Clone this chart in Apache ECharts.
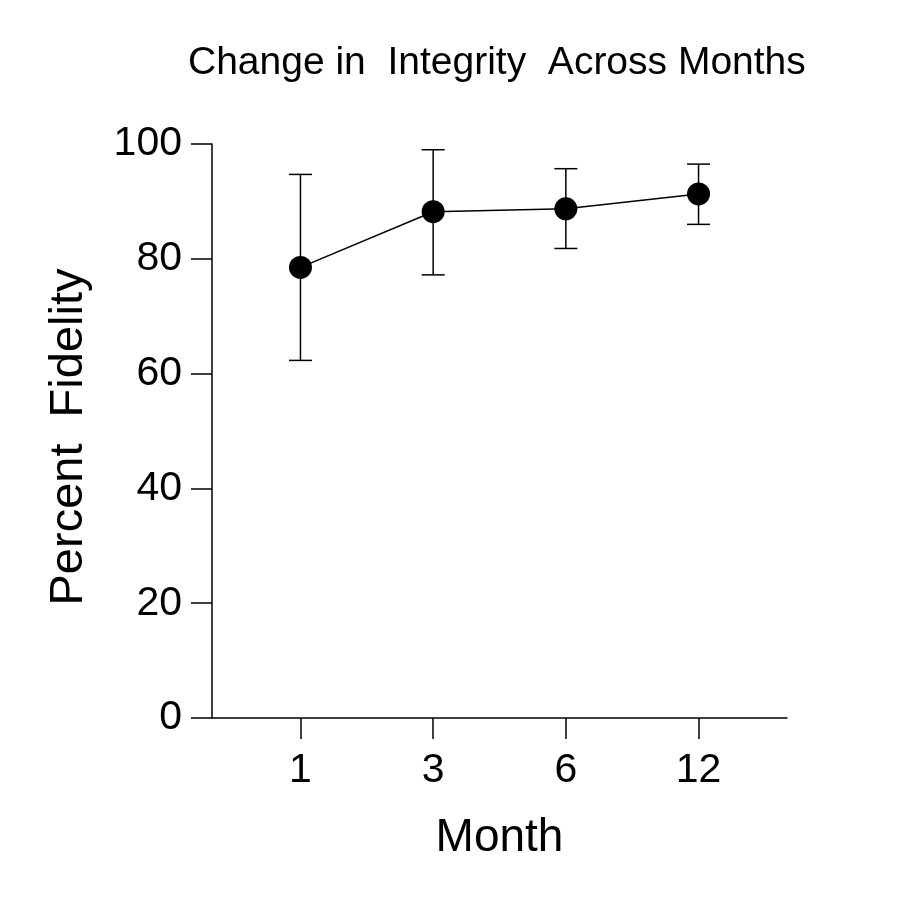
<!DOCTYPE html>
<html>
<head>
<meta charset="utf-8">
<script src="https://cdn.jsdelivr.net/npm/echarts@6/dist/echarts.min.js"></script>
<style>
html,body{margin:0;padding:0;background:#fff;}
#chart{width:919px;height:904px;}
</style>
</head>
<body>
<div id="chart"></div>
<script>
const monthLabels = ['1', '3', '6', '12'];
const meanFidelity = [78.5, 88.2, 88.7, 91.3];
const upperFidelity = [94.7, 99.0, 95.7, 96.5];
const lowerFidelity = [62.3, 77.2, 81.8, 86.0];
const yTicks = [0, 20, 40, 60, 80, 100];

const positions = monthLabels.map((_, i) => i + 1);
const FONT = '"Liberation Sans", Arial, sans-serif';

const chart = echarts.init(document.getElementById('chart'), null, {renderer: 'canvas'});

const errData = positions.map((p, i) => [p, lowerFidelity[i], upperFidelity[i]]);
const lineData = positions.map((p, i) => [p, meanFidelity[i]]);

chart.setOption({
  backgroundColor: '#ffffff',
  animation: false,
  title: {
    text: 'Change in  Integrity  Across Months',
    left: 188,
    top: 44,
    padding: 0,
    textStyle: {fontFamily: FONT, fontSize: 39, fontWeight: 'normal', color: '#000'}
  },
  grid: {left: 212, right: 132, top: 144, bottom: 186, containLabel: false},
  xAxis: {
    type: 'value',
    min: 1 / 3,
    max: 4 + 2 / 3,
    name: 'Month',
    nameLocation: 'middle',
    nameGap: 97,
    nameTextStyle: {fontFamily: FONT, fontSize: 46, color: '#000'},
    axisLine: {lineStyle: {color: '#000', width: 1.5}},
    axisTick: {show: true, length: 21, lineStyle: {color: '#000', width: 1.5}, customValues: positions},
    axisLabel: {
      customValues: positions,
      formatter: v => monthLabels[Math.round(v) - 1] || '',
      fontFamily: FONT, fontSize: 41, color: '#000', margin: 32
    },
    splitLine: {show: false}
  },
  yAxis: {
    type: 'value',
    min: 0,
    max: 100,
    interval: 20,
    name: 'Percent  Fidelity',
    nameLocation: 'middle',
    nameGap: 119,
    nameRotate: 90,
    nameTextStyle: {fontFamily: FONT, fontSize: 47, color: '#000', padding: [0, 12, 0, 0]},
    axisLine: {show: true, lineStyle: {color: '#000', width: 1.5}},
    axisTick: {show: true, length: 21, lineStyle: {color: '#000', width: 1.5}},
    axisLabel: {
      fontFamily: FONT, fontSize: 41, color: '#000', margin: 30,
      formatter: v => yTicks.includes(v) ? String(v) : ''
    },
    splitLine: {show: false}
  },
  series: [
    {
      type: 'custom',
      z: 1,
      renderItem: function (params, api) {
        const x = api.value(0);
        const lo = api.coord([x, api.value(1)]);
        const hi = api.coord([x, api.value(2)]);
        const hw = 11.5;
        const style = {stroke: '#000', lineWidth: 1.5};
        return {
          type: 'group',
          children: [
            {type: 'line', shape: {x1: lo[0], y1: lo[1], x2: hi[0], y2: hi[1]}, style: style},
            {type: 'line', shape: {x1: hi[0] - hw, y1: hi[1], x2: hi[0] + hw, y2: hi[1]}, style: style},
            {type: 'line', shape: {x1: lo[0] - hw, y1: lo[1], x2: lo[0] + hw, y2: lo[1]}, style: style}
          ]
        };
      },
      encode: {x: 0, y: [1, 2]},
      data: errData
    },
    {
      type: 'line',
      z: 2,
      data: lineData,
      symbol: 'circle',
      symbolSize: 23,
      itemStyle: {color: '#000'},
      lineStyle: {color: '#000', width: 1.5}
    }
  ]
});
</script>
</body>
</html>
